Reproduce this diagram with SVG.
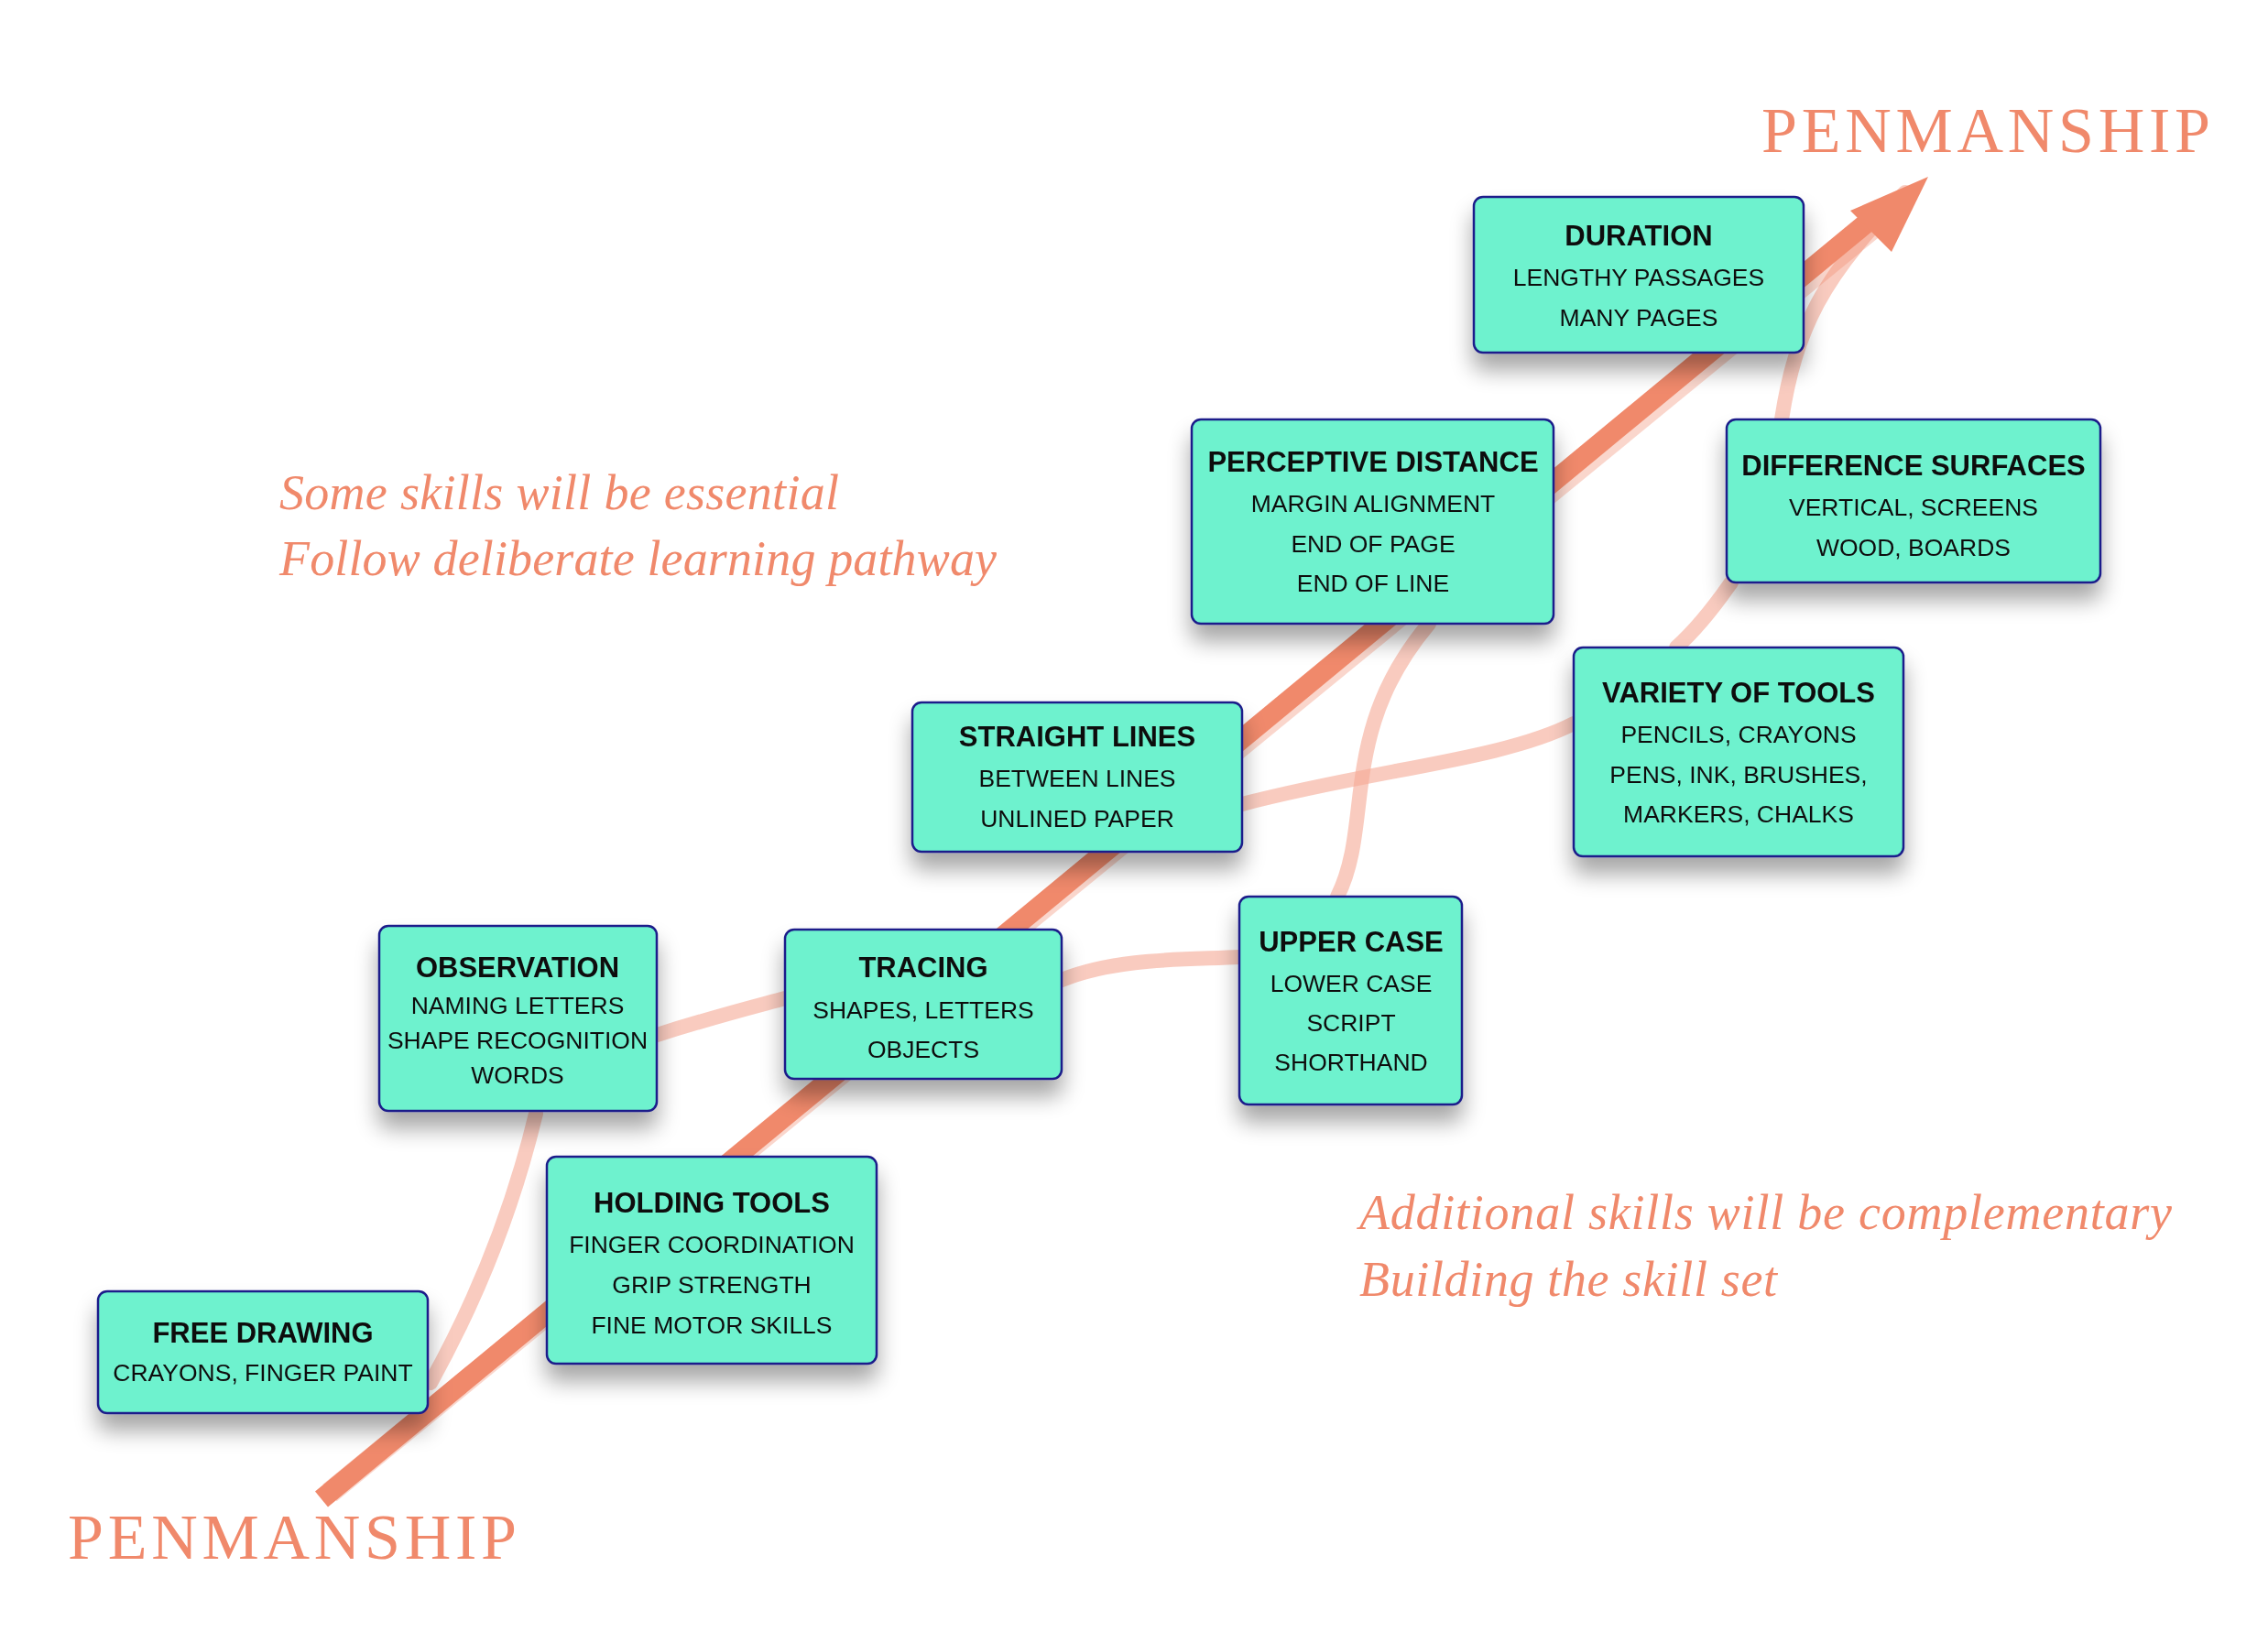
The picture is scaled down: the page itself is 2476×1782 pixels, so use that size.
<svg xmlns="http://www.w3.org/2000/svg" width="2476" height="1782" viewBox="0 0 2476 1782">
<style>
.box{fill:#6EF2CE;stroke:#1B1F8A;stroke-width:2.5}
.t{font-family:"Liberation Sans",Arial,sans-serif;font-size:31px;font-weight:bold;fill:#111;text-anchor:middle}
.s{font-family:"Liberation Sans",Arial,sans-serif;font-size:26.5px;fill:#111;text-anchor:middle}
.c{font-family:"Liberation Serif",serif;font-style:italic;fill:#F0896B}
.p{font-family:"Liberation Serif",serif;fill:#F0896B}
.lt{fill:none;stroke:#F5A994;stroke-opacity:0.6;stroke-width:16;stroke-linecap:round}
</style>
<defs>
<filter id="sh" x="-20%" y="-20%" width="140%" height="160%"><feGaussianBlur in="SourceAlpha" stdDeviation="12"/><feOffset dy="18"/><feComponentTransfer><feFuncA type="linear" slope="0.35"/></feComponentTransfer><feMerge><feMergeNode/><feMergeNode in="SourceGraphic"/></feMerge></filter>
</defs>
<rect width="2476" height="1782" fill="#fff"/>
<g id="connectors">
<path class="lt" d="M470 1510 C520 1420 560 1320 585 1216"/>
<path class="lt" d="M717 1130 C780 1110 820 1100 857 1090"/>
<path class="lt" d="M1159 1070 C1220 1045 1300 1048 1353 1045"/>
<path class="lt" d="M1460 979 C1500 900 1460 800 1560 681"/>
<path class="lt" d="M1356 878 C1500 840 1640 830 1718 790"/>
<path class="lt" d="M1830 707 C1860 680 1880 650 1890 636"/>
<path class="lt" d="M1945 458 C1960 360 1990 300 2080 210"/>
<path d="M360 1630 L2080 220" stroke="#F08A6C" stroke-opacity="0.35" stroke-width="24" fill="none"/>
<path d="M351 1637 L2060 225" stroke="#F0896B" stroke-width="22" fill="none"/>
<polygon points="2105,193 2065,275 2020,230" fill="#F0896B"/>
</g>
<text class="p" x="1923" y="166" font-size="70" textLength="490">PENMANSHIP</text>
<text class="p" x="74" y="1702" font-size="70" textLength="490">PENMANSHIP</text>
<text class="c" x="305" y="556" font-size="54" textLength="611">Some skills will be essential</text>
<text class="c" x="305" y="628" font-size="54" textLength="783">Follow deliberate learning pathway</text>
<text class="c" x="1484" y="1342" font-size="54" textLength="887">Additional skills will be complementary</text>
<text class="c" x="1484" y="1415" font-size="54" textLength="456">Building the skill set</text>
<g id="free" filter="url(#sh)"><rect class="box" x="107" y="1410" width="360" height="133" rx="10"/><text class="t" x="287" y="1466">FREE DRAWING</text><text class="s" x="287" y="1508">CRAYONS, FINGER PAINT</text></g>
<g id="holding" filter="url(#sh)"><rect class="box" x="597" y="1263" width="360" height="226" rx="10"/><text class="t" x="777" y="1324">HOLDING TOOLS</text><text class="s" x="777" y="1368">FINGER COORDINATION</text><text class="s" x="777" y="1412">GRIP STRENGTH</text><text class="s" x="777" y="1456">FINE MOTOR SKILLS</text></g>
<g id="observation" filter="url(#sh)"><rect class="box" x="414" y="1011" width="303" height="202" rx="10"/><text class="t" x="565" y="1067">OBSERVATION</text><text class="s" x="565" y="1107">NAMING LETTERS</text><text class="s" x="565" y="1145">SHAPE RECOGNITION</text><text class="s" x="565" y="1183">WORDS</text></g>
<g id="tracing" filter="url(#sh)"><rect class="box" x="857" y="1015" width="302" height="163" rx="10"/><text class="t" x="1008" y="1067">TRACING</text><text class="s" x="1008" y="1112">SHAPES, LETTERS</text><text class="s" x="1008" y="1155">OBJECTS</text></g>
<g id="straight" filter="url(#sh)"><rect class="box" x="996" y="767" width="360" height="163" rx="10"/><text class="t" x="1176" y="815">STRAIGHT LINES</text><text class="s" x="1176" y="859">BETWEEN LINES</text><text class="s" x="1176" y="903">UNLINED PAPER</text></g>
<g id="upper" filter="url(#sh)"><rect class="box" x="1353" y="979" width="243" height="227" rx="10"/><text class="t" x="1475" y="1039">UPPER CASE</text><text class="s" x="1475" y="1083">LOWER CASE</text><text class="s" x="1475" y="1126">SCRIPT</text><text class="s" x="1475" y="1169">SHORTHAND</text></g>
<g id="perceptive" filter="url(#sh)"><rect class="box" x="1301" y="458" width="395" height="223" rx="10"/><text class="t" x="1499" y="515">PERCEPTIVE DISTANCE</text><text class="s" x="1499" y="559">MARGIN ALIGNMENT</text><text class="s" x="1499" y="603">END OF PAGE</text><text class="s" x="1499" y="646">END OF LINE</text></g>
<g id="variety" filter="url(#sh)"><rect class="box" x="1718" y="707" width="360" height="228" rx="10"/><text class="t" x="1898" y="767">VARIETY OF TOOLS</text><text class="s" x="1898" y="811">PENCILS, CRAYONS</text><text class="s" x="1898" y="855">PENS, INK, BRUSHES,</text><text class="s" x="1898" y="898">MARKERS, CHALKS</text></g>
<g id="duration" filter="url(#sh)"><rect class="box" x="1609" y="215" width="360" height="170" rx="10"/><text class="t" x="1789" y="268">DURATION</text><text class="s" x="1789" y="312">LENGTHY PASSAGES</text><text class="s" x="1789" y="356">MANY PAGES</text></g>
<g id="surfaces" filter="url(#sh)"><rect class="box" x="1885" y="458" width="408" height="178" rx="10"/><text class="t" x="2089" y="519">DIFFERENCE SURFACES</text><text class="s" x="2089" y="563">VERTICAL, SCREENS</text><text class="s" x="2089" y="607">WOOD, BOARDS</text></g>
</svg>
